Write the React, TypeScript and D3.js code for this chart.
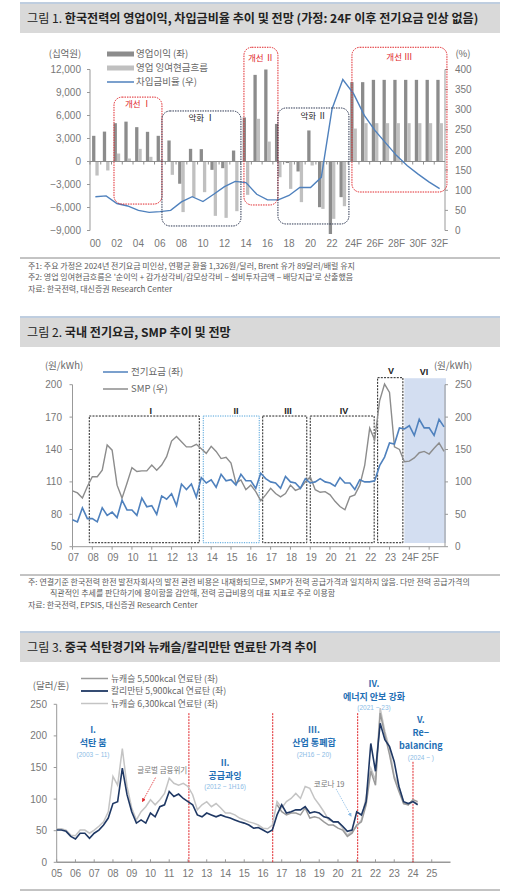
import * as d3 from "d3";

const FONT = "'Noto Sans CJK KR', 'Noto Sans', sans-serif";
const NUM = "'Liberation Sans', 'Noto Sans CJK KR', sans-serif";

// ---------- chart 1 data ----------
const years1 = ["00","01","02","03","04","05","06","07","08","09","10","11","12","13","14","15","16","17","18","19","20","21","22","23","24F","25F","26F","27F","28F","29F","30F","31F","32F"];
const opProfit = [3350, 3900, 5000, 5200, 4480, 3870, 3350, 2740, -2900, 1650, 1610, -1090, -870, 1430, 5740, 11300, 12000, 4900, -200, -1300, 4050, -5960, -32600, -4650, 10350, 10350, 10650, 10650, 10650, 10650, 10650, 10650, 10650];
const opFcf = [-1830, -1170, 1040, 390, 1650, 610, 200, -1740, -6600, -4650, -4000, -7090, -7350, -6480, -4350, 5570, 2600, -2050, -3570, -5300, -520, -6180, -7480, -5830, 4300, 5000, 5000, 5000, 5000, 5000, 5000, 5000, 5000];
const debtRatio = [84, 86, 67, 61, 50, 45, 47, 50, 71, 84, 72, 90, 109, 122, 119, 90, 76, 76, 87, 107, 107, 132, 302, 375, 340, 286, 248, 217, 186, 161, 140, 121, 104];
const leftTicks1 = [-9000, -6000, -3000, 0, 3000, 6000, 9000, 12000];
const rightTicks1 = [0, 50, 100, 150, 200, 250, 300, 350, 400];

// ---------- chart 2 data (quarterly 07Q1 ~ 25Q4) ----------
const yearLabels2 = ["07","08","09","10","11","12","13","14","15","16","17","18","19","20","21","22","23","24F","25F"];
const tariff = [75, 73, 86, 76, 76, 73, 86, 79, 82, 77, 93, 84, 84, 79, 95, 87, 88, 80, 97, 94, 99, 88, 108, 103, 108, 96, 114, 109, 112, 105, 117, 111, 112, 107, 117, 111, 111, 104, 118,
  113, 110, 109, 104, 115, 110, 109, 104, 113, 109, 110, 113, 110, 109, 106, 114, 109, 109, 103, 112, 110, 110, 111, 125, 133, 146, 145, 160, 159, 162, 153, 168, 160, 160, 153, 168, 161];
const smp = [86, 83, 75, 93, 108, 108, 118, 157, 149, 95, 75, 98, 122, 116, 117, 117, 126, 118, 126, 139, 163, 170, 162, 154, 154, 158, 151, 144, 155, 147, 136, 138, 129, 98, 103, 88, 95, 85, 71,
  80, 90, 82, 77, 82, 95, 87, 90, 100, 108, 88, 84, 85, 80, 70, 62, 57, 77, 80, 95, 126, 183, 165, 225, 251, 238, 154, 150, 131, 132, 137, 145, 147, 143, 152, 160, 147];
const leftTicks2 = [50, 80, 110, 140, 170, 200];
const rightTicks2 = [0, 50, 100, 150, 200, 250];

// ---------- chart 3 data (quarterly 2005Q1 ~ 2024Q2) ----------
const yearLabels3 = ["05","06","07","08","09","10","11","12","13","14","15","16","17","18","19","20","21","22","23","24","25"];
const kalimantan = [51, 51, 49, 41, 37, 46, 46, 38, 46, 51, 59, 70, 93, 96, 149, 107, 80, 62, 67, 62, 78, 72, 88, 91, 112, 104, 108, 101, 96, 91, 75, 72, 78, 75, 72, 75, 72, 70, 67, 64, 62, 59, 54, 55,
  51, 47, 51, 75, 91, 78, 80, 83, 83, 88, 78, 80, 78, 72, 70, 64, 64, 57, 49, 51, 80, 75, 96, 188, 144, 220, 194, 183, 159, 120, 96, 93, 96, 91];
const newc6300 = [53, 53, 51, 43, 42, 51, 51, 46, 51, 57, 64, 80, 136, 122, 180, 120, 86, 67, 80, 88, 99, 91, 99, 109, 133, 125, 122, 125, 120, 107, 83, 91, 96, 88, 93, 86, 78, 78, 75, 70, 67, 64, 62, 59,
  54, 53, 59, 96, 86, 96, 101, 109, 101, 120, 117, 101, 91, 80, 67, 64, 64, 54, 43, 49, 57, 67, 104, 149, 130, 244, 207, 180, 136, 120, 93, 91, 96, 93];
const newc5500: (number | null)[] = [...Array(47).fill(null),
  91, 80, 75, 78, 78, 75, 86, 70, 72, 70, 64, 59, 59, 54, 51, 41, 46, 59, 64, 91, 144, 122, 236, 202, 170, 133, 112, 93, 91, 99, 96];
const ticks3 = [0, 50, 100, 150, 200, 250];

function TitleBar({ y, num, text }: { y: number; num: string; text: string }) {
  return (
    <g>
      <line x1={20} x2={500} y1={y} y2={y} stroke="#7f9cc0" strokeWidth={1} />
      <rect x={20} y={y + 1} width={480} height={29} fill="#d9d9d9" />
      <text x={27} y={y + 16} dy="0.35em" fontSize={12.1} fill="#222" fontFamily={FONT}>
        <tspan>{num} </tspan>
        <tspan fontWeight={700}>{text}</tspan>
      </text>
    </g>
  );
}

function Note({ x, y, t }: { x: number; y: number; t: string }) {
  return <text x={x} y={y} dy="0.35em" fontSize={8} fill="#5a5a5a" fontFamily={FONT}>{t}</text>;
}

export default function App() {
  const fmt = d3.format(",");

  // ----- chart 1 -----
  const x1 = d3.scaleBand().domain(years1).range([90, 445]);
  const bwd = x1.bandwidth();
  const yL1 = d3.scaleLinear().domain([-9000, 12000]).range([230.5, 69.5]);
  const yR1 = d3.scaleLinear().domain([0, 400]).range([230.5, 69.5]);
  const xi = (i: number) => 90 + i * bwd;
  const cx1 = (i: number) => x1(years1[i])! + bwd / 2;
  const line1 = d3.line<number>().x((_, i) => cx1(i)).y(d => yR1(d));
  const barW = 3.3;
  const boxes1 = [
    { label: "개선 Ⅰ", a: 2.23, b: 6.69, top: 8400, bot: -5550, color: "#e0262b", tx: 4.46, ty: 7500 },
    { label: "악화 Ⅰ", a: 6.69, b: 14.03, top: 6590, bot: -8410, color: "#2b3550", tx: 10.36, ty: 5700 },
    { label: "개선 Ⅱ", a: 14.31, b: 17.47, top: 14900, bot: -5670, color: "#e0262b", tx: 15.89, ty: 13500 },
    { label: "악화 Ⅱ", a: 17.47, b: 24.07, top: 6980, bot: -8150, color: "#2b3550", tx: 20.77, ty: 5900 },
    { label: "개선 Ⅲ", a: 24.35, b: 33.18, top: 14900, bot: -3980, color: "#e0262b", tx: 28.76, ty: 13600 },
  ];

  // ----- chart 2 -----
  const x2 = d3.scaleLinear().domain([0, 75]).range([72.5, 444]);
  const yL2 = d3.scaleLinear().domain([50, 200]).range([546.7, 384.7]);
  const yR2 = d3.scaleLinear().domain([0, 250]).range([546.7, 384.7]);
  const lineT = d3.line<number>().x((_, i) => x2(i)).y(d => yL2(d));
  const lineS = d3.line<number>().x((_, i) => x2(i)).y(d => yR2(d));
  const boxes2 = [
    { l: "I", a: 3.39, b: 25.6, top: 171, lx: 15.8, ly: 176, color: "#222", dash: "2,1.2" },
    { l: "II", a: 26.4, b: 37.7, top: 171, lx: 33.0, ly: 176, color: "#4a9fd8", dash: "1.2,1.2" },
    { l: "III", a: 38.4, b: 47.3, top: 171, lx: 43.5, ly: 176, color: "#222", dash: "2,1.2" },
    { l: "IV", a: 48.0, b: 60.9, top: 171, lx: 54.8, ly: 176, color: "#222", dash: "2,1.2" },
    { l: "V", a: 61.6, b: 66.7, top: 206.5, lx: 64.3, ly: 212.5, color: "#222", dash: "2,1.2" },
  ];

  // ----- chart 3 -----
  const x3 = d3.scaleLinear().domain([2005, 2026]).range([56.7, 450.5]);
  const y3 = d3.scaleLinear().domain([0, 250]).range([862.3, 704.3]);
  const t3 = (i: number) => 2005 + i / 4;
  const line3 = d3.line<number | null>().defined(d => d != null).x((_, i) => x3(t3(i))).y(d => y3(d as number));
  const vlines3 = [
    { t: 2012.05, top: 236 },
    { t: 2016.52, top: 236 },
    { t: 2021.05, top: 236 },
    { t: 2024.0, top: 159 },
  ];
  const ann3 = [
    { t: 2006.94, v: 209, lines: ["I.", "석탄 붐"], sub: "(2003 ~ 11)" },
    { t: 2013.98, v: 158, lines: ["II.", "공급과잉"], sub: "(2012 ~ 1H16)" },
    { t: 2018.72, v: 209, lines: ["III.", "산업 통폐합"], sub: "(2H16 ~ 20)" },
    { t: 2021.92, v: 283, lines: ["IV.", "에너지 안보 강화"], sub: "(2021 ~ 23)" },
    { t: 2024.42, v: 225, lines: ["V.", "Re−", "balancing"], sub: "(2024 ~ )" },
  ];
  const gap = 13;

  return (
    <svg width={522} height={891} style={{ position: "absolute", left: 0, top: 0, background: "#fff" }} fontFamily={FONT}>
      <defs>
        <clipPath id="c1"><rect x={88} y={60} width={360} height={174} /></clipPath>
        <marker id="arR" viewBox="0 0 6 6" refX={5} refY={3} markerWidth={5} markerHeight={5} orient="auto">
          <path d="M0,0L6,3L0,6Z" fill="#e0262b" />
        </marker>
        <marker id="arB" viewBox="0 0 6 6" refX={5} refY={3} markerWidth={5} markerHeight={5} orient="auto">
          <path d="M0,0L6,3L0,6Z" fill="#8cbce6" />
        </marker>
      </defs>

      {/* ================= chart 1 ================= */}
      <TitleBar y={3} num="그림 1." text="한국전력의 영업이익, 차입금비율 추이 및 전망 (가정: 24F 이후 전기요금 인상 없음)" />
      <text x={65} y={54} dy="0.35em" textAnchor="middle" fontSize={9.5} fill="#666">(십억원)</text>
      <text x={463} y={54} dy="0.35em" textAnchor="middle" fontSize={9.5} fill="#666">(%)</text>
      {/* legend */}
      <rect x={107} y={51.5} width={27} height={5} fill="#8c8c8c" />
      <text x={136} y={54} dy="0.35em" fontSize={9.5} fill="#666">영업이익 (좌)</text>
      <rect x={107} y={65.5} width={27} height={5} fill="#c0c0c0" />
      <text x={136} y={68} dy="0.35em" fontSize={9.5} fill="#666">영업 잉여현금흐름</text>
      <line x1={107} x2={134} y1={82} y2={82} stroke="#4f81bd" strokeWidth={1.5} />
      <text x={136} y={82} dy="0.35em" fontSize={9.5} fill="#666">차입금비율 (우)</text>
      {/* axes */}
      <line x1={90} x2={90} y1={yL1(12000)} y2={yL1(-9000)} stroke="#999" />
      {leftTicks1.map(t => (
        <g key={t}>
          <line x1={87} x2={90} y1={yL1(t)} y2={yL1(t)} stroke="#999" />
          <text x={81} y={yL1(t)} dy="0.35em" textAnchor="end" fontSize={10} fill="#777" fontFamily={NUM}>{fmt(t)}</text>
        </g>
      ))}
      <line x1={445} x2={445} y1={yR1(400)} y2={yR1(0)} stroke="#999" />
      {rightTicks1.map(t => (
        <g key={t}>
          <line x1={445} x2={448} y1={yR1(t)} y2={yR1(t)} stroke="#999" />
          <text x={455} y={yR1(t)} dy="0.35em" fontSize={10} fill="#777" fontFamily={NUM}>{t}</text>
        </g>
      ))}
      {/* bars */}
      <g clipPath="url(#c1)">
        {years1.map((yr, i) => {
          const c = cx1(i);
          const a = opProfit[i], b = opFcf[i];
          return (
            <g key={yr}>
              <rect x={c - barW} width={barW} y={yL1(Math.max(0, a))} height={Math.abs(yL1(a) - yL1(0))} fill="#8c8c8c" />
              <rect x={c} width={barW} y={yL1(Math.max(0, b))} height={Math.abs(yL1(b) - yL1(0))} fill="#c0c0c0" />
            </g>
          );
        })}
      </g>
      <line x1={90} x2={445} y1={yL1(0)} y2={yL1(0)} stroke="#8c8c8c" />
      {years1.map((yr, i) => (
        <line key={yr} x1={xi(i)} x2={xi(i)} y1={yL1(0)} y2={yL1(0) + 3} stroke="#8c8c8c" />
      ))}
      {years1.map((yr, i) => i % 2 === 0 ? (
        <text key={yr} x={cx1(i)} y={243} dy="0.35em" textAnchor="middle" fontSize={10} fill="#777" fontFamily={NUM}>{yr}</text>
      ) : null)}
      <path d={line1(debtRatio)!} fill="none" stroke="#4f81bd" strokeWidth={1.4} />
      {boxes1.map(b => (
        <g key={b.label}>
          <rect x={xi(b.a)} y={yL1(b.top)} width={xi(b.b) - xi(b.a)} height={yL1(b.bot) - yL1(b.top)} rx={8} fill="none" stroke={b.color} strokeWidth={1} strokeDasharray="1.5,1" />
          <text x={xi(b.tx)} y={yL1(b.ty)} dy="0.35em" textAnchor="middle" fontSize={8.5} fill={b.color === "#e0262b" ? "#e0262b" : "#222"}>{b.label}</text>
        </g>
      ))}
      <line x1={20} x2={500} y1={258} y2={258} stroke="#888" />
      <Note x={28} y={266} t="주1: 주요 가정은 2024년 전기요금 미인상, 연평균 환율 1,326원/달러, Brent 유가 89달러/배럴 유지" />
      <Note x={28} y={277.5} t="주2: 영업 잉여현금흐름은 '순이익 + 감가상각비/감모상각비 − 설비투자금액 − 배당지급'로 산출했음" />
      <Note x={28} y={289} t="자료: 한국전력, 대신증권 Research Center" />

      {/* ================= chart 2 ================= */}
      <TitleBar y={317} num="그림 2." text="국내 전기요금, SMP 추이 및 전망" />
      <text x={64} y={366} dy="0.35em" textAnchor="middle" fontSize={9.5} fill="#666">(원/kWh)</text>
      <text x={453} y={366} dy="0.35em" textAnchor="middle" fontSize={9.5} fill="#666">(원/kWh)</text>
      <line x1={103} x2={128} y1={372} y2={372} stroke="#4f81bd" strokeWidth={1.5} />
      <text x={131} y={372} dy="0.35em" fontSize={9.5} fill="#666">전기요금 (좌)</text>
      <line x1={103} x2={128} y1={389} y2={389} stroke="#8c8c8c" strokeWidth={1.5} />
      <text x={131} y={389} dy="0.35em" fontSize={9.5} fill="#666">SMP (우)</text>
      {/* VI shading */}
      <rect x={x2(67)} y={yL2(206)} width={x2(75.4) - x2(67)} height={yL2(53.4) - yL2(206)} fill="#d3def1" />
      <text x={x2(70.96)} y={yL2(211.8)} dy="0.35em" textAnchor="middle" fontSize={9} fontWeight={700} fill="#222" fontFamily={NUM}>VI</text>
      {/* axes */}
      <line x1={72.5} x2={72.5} y1={yL2(200)} y2={yL2(50)} stroke="#999" />
      {leftTicks2.map(t => (
        <g key={t}>
          <line x1={69.5} x2={72.5} y1={yL2(t)} y2={yL2(t)} stroke="#999" />
          <text x={62} y={yL2(t)} dy="0.35em" textAnchor="end" fontSize={10} fill="#777" fontFamily={NUM}>{t}</text>
        </g>
      ))}
      <line x1={445} x2={445} y1={yR2(250)} y2={yR2(0)} stroke="#999" />
      {rightTicks2.map(t => (
        <g key={t}>
          <line x1={445} x2={448} y1={yR2(t)} y2={yR2(t)} stroke="#999" />
          <text x={455} y={yR2(t)} dy="0.35em" fontSize={10} fill="#777" fontFamily={NUM}>{t}</text>
        </g>
      ))}
      <line x1={72.5} x2={445} y1={yL2(50)} y2={yL2(50)} stroke="#999" />
      {yearLabels2.map((l, k) => (
        <g key={l}>
          <line x1={x2(k * 4)} x2={x2(k * 4)} y1={yL2(50)} y2={yL2(50) + 3} stroke="#999" />
          <text x={x2(k * 4) + 1} y={557} dy="0.35em" textAnchor="middle" fontSize={10} fill="#777" fontFamily={NUM}>{l}</text>
        </g>
      ))}
      {boxes2.map(b => (
        <g key={b.l}>
          <rect x={x2(b.a)} y={yL2(b.top)} width={x2(b.b) - x2(b.a)} height={yL2(53.7) - yL2(b.top)} fill="none" stroke={b.color} strokeWidth={1} strokeDasharray={b.dash} />
          <text x={x2(b.lx)} y={yL2(b.ly)} dy="0.35em" textAnchor="middle" fontSize={9} fontWeight={700} fill="#222" fontFamily={NUM}>{b.l}</text>
        </g>
      ))}
      <path d={lineS(smp)!} fill="none" stroke="#8c8c8c" strokeWidth={1.4} />
      <path d={lineT(tariff)!} fill="none" stroke="#4f81bd" strokeWidth={1.6} />
      <line x1={20} x2={500} y1={575} y2={575} stroke="#888" />
      <Note x={28} y={582} t="주: 연결기준 한국전력 한전 발전자회사의 발전 관련 비용은 내재화되므로, SMP가 전력 공급가격과 일치하지 않음. 다만 전력 공급가격의" />
      <Note x={50} y={593.5} t="직관적인 추세를 판단하기에 용이함을 감안해, 전력 공급비용의 대표 지표로 주로 이용함" />
      <Note x={28} y={605.5} t="자료: 한국전력, EPSIS, 대신증권 Research Center" />

      {/* ================= chart 3 ================= */}
      <TitleBar y={632} num="그림 3." text="중국 석탄경기와 뉴캐슬/칼리만탄 연료탄 가격 추이" />
      <text x={51} y={686} dy="0.35em" textAnchor="middle" fontSize={9.5} fill="#666">(달러/톤)</text>
      <line x1={81} x2={108} y1={678.5} y2={678.5} stroke="#9a9a9a" strokeWidth={1.5} />
      <text x={111} y={678.5} dy="0.35em" fontSize={8.8} fill="#666">뉴캐슬 5,500kcal 연료탄 (좌)</text>
      <line x1={81} x2={108} y1={691} y2={691} stroke="#1f3864" strokeWidth={1.8} />
      <text x={111} y={691} dy="0.35em" fontSize={8.8} fill="#666">칼리만탄 5,900kcal 연료탄 (좌)</text>
      <line x1={81} x2={108} y1={703.5} y2={703.5} stroke="#c4c4c4" strokeWidth={1.5} />
      <text x={111} y={703.5} dy="0.35em" fontSize={8.8} fill="#666">뉴캐슬 6,300kcal 연료탄 (좌)</text>
      <line x1={56.7} x2={56.7} y1={y3(250)} y2={y3(0)} stroke="#999" />
      {ticks3.map(t => (
        <g key={t}>
          <line x1={53.7} x2={56.7} y1={y3(t)} y2={y3(t)} stroke="#999" />
          <text x={47} y={y3(t)} dy="0.35em" textAnchor="end" fontSize={10} fill="#777" fontFamily={NUM}>{t}</text>
        </g>
      ))}
      <line x1={56.7} x2={450.5} y1={y3(0)} y2={y3(0)} stroke="#999" strokeWidth={1.5} />
      {yearLabels3.map((l, k) => (
        <g key={l}>
          <line x1={x3(2005 + k)} x2={x3(2005 + k)} y1={y3(0)} y2={y3(0) - 3} stroke="#999" />
          <text x={x3(2005 + k)} y={873} dy="0.35em" textAnchor="middle" fontSize={10} fill="#777" fontFamily={NUM}>{l}</text>
        </g>
      ))}
      {vlines3.map(v => (
        <line key={v.t} x1={x3(v.t)} x2={x3(v.t)} y1={y3(v.top)} y2={y3(0)} stroke="#e0262b" strokeWidth={1} strokeDasharray="2,1" />
      ))}
      <path d={line3(newc6300)!} fill="none" stroke="#c4c4c4" strokeWidth={1.5} />
      <path d={line3(newc5500)!} fill="none" stroke="#9a9a9a" strokeWidth={1.5} />
      <path d={line3(kalimantan)!} fill="none" stroke="#1f3864" strokeWidth={1.6} />
      {ann3.map(a => (
        <g key={a.sub}>
          {a.lines.map((l, j) => (
            <text key={j} x={x3(a.t)} y={y3(a.v) + j * gap} dy="0.35em" textAnchor="middle" fontSize={9} fontWeight={700} fill="#1f6fb5">{l}</text>
          ))}
          <text x={x3(a.t)} y={y3(a.v) + (a.lines.length - 1) * gap + 11.5} dy="0.35em" textAnchor="middle" fontSize={6.5} fill="#8cbce6" fontFamily={NUM}>{a.sub}</text>
        </g>
      ))}
      <text x={x3(2010.63)} y={y3(144.8)} dy="0.35em" textAnchor="middle" fontSize={7.5} fill="#777">글로벌 금융위기</text>
      <line x1={x3(2010.27)} y1={y3(134)} x2={x3(2009.57)} y2={y3(96)} stroke="#e0262b" strokeWidth={0.8} strokeDasharray="1.5,1" markerEnd="url(#arR)" />
      <text x={x3(2019.53)} y={y3(124)} dy="0.35em" textAnchor="middle" fontSize={7.5} fill="#777">코로나 19</text>
      <line x1={x3(2019.9)} y1={y3(116)} x2={x3(2020.7)} y2={y3(73)} stroke="#8cbce6" strokeWidth={0.8} strokeDasharray="1.5,1" markerEnd="url(#arB)" />
      <line x1={20} x2={500} y1={890} y2={890} stroke="#888" />
    </svg>
  );
}
